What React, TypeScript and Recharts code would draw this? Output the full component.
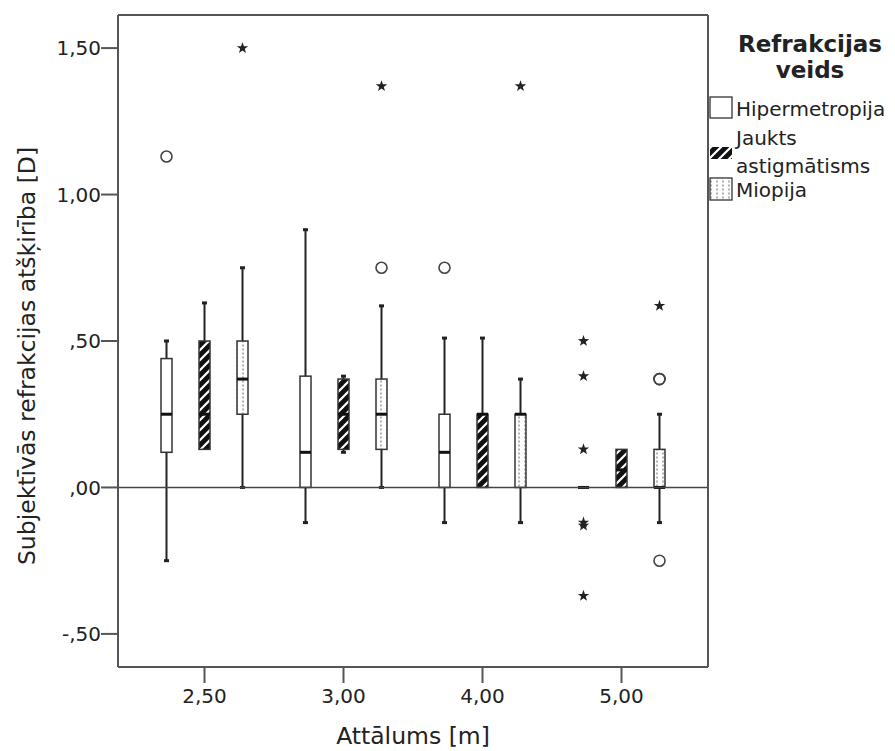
import { ComposedChart, Bar, XAxis, YAxis, ReferenceLine } from "recharts";

const FONT = '"DejaVu Sans", sans-serif';
const INK = "#222";
const FRAME = "#555";

const distances = ["2,50", "3,00", "4,00", "5,00"];

// [lower whisker, Q1, median, Q3, upper whisker] for each distance
const hipermetropija = [
  [-0.25, 0.12, 0.25, 0.44, 0.5],
  [-0.12, 0, 0.12, 0.38, 0.88],
  [-0.12, 0, 0.12, 0.25, 0.51],
  [0, 0, 0, 0, 0],
];
const jaukts = [
  [0.13, 0.13, 0.25, 0.5, 0.63],
  [0.12, 0.13, 0.25, 0.37, 0.38],
  [0, 0, 0.25, 0.25, 0.51],
  [0, 0, 0.06, 0.13, 0.13],
];
const miopija = [
  [0, 0.25, 0.37, 0.5, 0.75],
  [0, 0.13, 0.25, 0.37, 0.62],
  [-0.12, 0, 0.25, 0.25, 0.37],
  [-0.12, 0, 0, 0.13, 0.25],
];

// outliers (circles) and extreme values (stars)
const hipermetropijaOutliers = [[1.13], [], [0.75], []];
const hipermetropijaExtremes = [[], [], [], [0.5, 0.38, 0.13, -0.12, -0.13, -0.37]];
const jauktsOutliers = [[], [], [], []];
const jauktsExtremes = [[], [], [], []];
const miopijaOutliers = [[], [0.75], [], [0.37, 0.37, -0.25]];
const miopijaExtremes = [[1.5], [1.37], [1.37], [0.62]];

const yTicks = [-0.5, 0, 0.5, 1, 1.5];
const yDomain = [-0.613, 1.613];

const rows = distances.map((distance, i) => ({
  distance,
  hip: { stats: hipermetropija[i], circles: hipermetropijaOutliers[i], stars: hipermetropijaExtremes[i] },
  jau: { stats: jaukts[i], circles: jauktsOutliers[i], stars: jauktsExtremes[i] },
  mio: { stats: miopija[i], circles: miopijaOutliers[i], stars: miopijaExtremes[i] },
}));

const spanOf = (g) => {
  const all = [...g.stats, ...g.circles, ...g.stars];
  return [Math.min(...all), Math.max(...all)];
};

const fmtY = (v: number) => {
  const s = Math.abs(v).toFixed(2).replace(".", ",").replace(/^0/, "");
  return v < 0 ? "-" + s : s;
};

const starPoints = (cx: number, cy: number, R: number, r: number) =>
  Array.from({ length: 10 }, (_, k) => {
    const a = -Math.PI / 2 + (k * Math.PI) / 5;
    const rad = k % 2 ? r : R;
    return `${cx + rad * Math.cos(a)},${cy + rad * Math.sin(a)}`;
  }).join(" ");

function BoxShape(props: any) {
  const { x, y, width, height, payload, kind, fill } = props;
  const g = payload?.[kind];
  if (!g) return null;
  const [lo, hi] = spanOf(g);
  const top = Math.min(y, y + height);
  const h = Math.abs(height);
  const py = (v: number) => (hi === lo ? top : top + ((hi - v) / (hi - lo)) * h);
  const [wLo, q1, med, q3, wHi] = g.stats;
  const cx = x + width / 2;
  return (
    <g>
      {wHi > q3 && (
        <g>
          <line x1={cx} x2={cx} y1={py(q3)} y2={py(wHi)} stroke="#222" strokeWidth={2} />
          <line x1={cx - 2.5} x2={cx + 2.5} y1={py(wHi)} y2={py(wHi)} stroke="#222" strokeWidth={3} />
        </g>
      )}
      {wLo < q1 && (
        <g>
          <line x1={cx} x2={cx} y1={py(q1)} y2={py(wLo)} stroke="#222" strokeWidth={2} />
          <line x1={cx - 2.5} x2={cx + 2.5} y1={py(wLo)} y2={py(wLo)} stroke="#222" strokeWidth={3} />
        </g>
      )}
      {q3 > q1 && (
        <rect x={x} y={py(q3)} width={width} height={py(q1) - py(q3)} fill={fill} stroke="#333" strokeWidth={1.5} />
      )}
      <line x1={x} x2={x + width} y1={py(med)} y2={py(med)} stroke="#111" strokeWidth={3} />
      {g.circles.map((v: number, i: number) => (
        <circle key={"c" + i} cx={cx} cy={py(v)} r={5.5} fill="none" stroke="#444" strokeWidth={1.6} />
      ))}
      {g.stars.map((v: number, i: number) => (
        <polygon key={"s" + i} points={starPoints(cx, py(v), 6, 2.4)} fill="#222" />
      ))}
    </g>
  );
}

function AxisTitle(props: any) {
  const { viewBox, kind } = props;
  if (!viewBox) return null;
  if (kind === "x") {
    return (
      <text x={viewBox.x + viewBox.width / 2} y={viewBox.y + 77} textAnchor="middle"
        fontSize={23.5} fontFamily={FONT} fill={INK}>
        Attālums [m]
      </text>
    );
  }
  const tx = viewBox.x + 35;
  const ty = viewBox.y + viewBox.height / 2 + 15;
  return (
    <text x={tx} y={ty} transform={`rotate(-90, ${tx}, ${ty})`} textAnchor="middle"
      fontSize={23.5} fontFamily={FONT} fill={INK}>
      Subjektīvās refrakcijas atšķirība [D]
    </text>
  );
}

export default function App() {
  const axisStroke = { stroke: FRAME, strokeWidth: 2 };
  const tickStyle = { fontSize: 20, fontFamily: FONT, fill: INK };
  return (
    <div style={{ position: "absolute", left: 0, top: 0, width: 895, height: 751, background: "#fff" }}>
      <ComposedChart width={895} height={751} data={rows} barSize={11} barGap={27}
        margin={{ top: 14, right: 186, bottom: 0, left: 0 }}>
        <XAxis dataKey="distance" interval={0} padding={{ left: 17, right: 17 }} height={84}
          tickSize={16} tickMargin={6} tick={tickStyle} axisLine={axisStroke} tickLine={axisStroke}
          label={<AxisTitle kind="x" />} />
        <XAxis xAxisId="top" type="number" domain={[0, 1]} allowDataOverflow orientation="top"
          height={1} tick={false} tickLine={false} axisLine={axisStroke} />
        <YAxis type="number" domain={yDomain} ticks={yTicks} tickFormatter={fmtY}
          allowDataOverflow width={118} tickSize={17} tickMargin={0} tick={tickStyle}
          axisLine={axisStroke} tickLine={axisStroke} label={<AxisTitle kind="y" />} />
        <YAxis yAxisId="right" type="number" domain={yDomain} allowDataOverflow orientation="right"
          width={1} tick={false} tickLine={false} axisLine={axisStroke} />
        <ReferenceLine y={0} stroke="#444" strokeWidth={1.5} />
        <Bar dataKey={(r: any) => spanOf(r.hip)} isAnimationActive={false}
          shape={<BoxShape kind="hip" fill="#fff" />} />
        <Bar dataKey={(r: any) => spanOf(r.jau)} isAnimationActive={false}
          shape={<BoxShape kind="jau" fill="url(#hatch)" />} />
        <Bar dataKey={(r: any) => spanOf(r.mio)} isAnimationActive={false}
          shape={<BoxShape kind="mio" fill="url(#dots)" />} />
      </ComposedChart>
      <svg style={{ position: "absolute", left: 708, top: 0 }} width={187} height={220}
        fontFamily={FONT} fill={INK}>
        <defs>
          <pattern id="hatch" width="10" height="10" patternUnits="userSpaceOnUse">
            <rect width="10" height="10" fill="#111" />
            <path d="M-2.5,2.5 L2.5,-2.5 M0,10 L10,0 M7.5,12.5 L12.5,7.5" stroke="#fff" strokeWidth="2.2" />
          </pattern>
          <pattern id="dots" width="6" height="4" patternUnits="userSpaceOnUse">
            <rect width="6" height="4" fill="#fff" />
            <rect x="2.5" y="0.5" width="1" height="2" fill="#666" />
          </pattern>
        </defs>
        <text x={102} y={52} textAnchor="middle" fontSize={23} fontWeight="bold">Refrakcijas</text>
        <text x={102} y={78} textAnchor="middle" fontSize={23} fontWeight="bold">veids</text>
        <rect x={2} y={97} width={22} height={21} fill="#fff" stroke="#333" strokeWidth={1.3} />
        <text x={28} y={116} fontSize={20}>Hipermetropija</text>
        <rect x={2} y={147} width={22} height={12} fill="url(#hatch)" />
        <text x={28} y={145} fontSize={20}>Jaukts</text>
        <text x={28} y={173} fontSize={20}>astigmātisms</text>
        <rect x={2} y={178} width={22} height={22} fill="url(#dots)" stroke="#333" strokeWidth={1.3} />
        <text x={28} y={197} fontSize={20}>Miopija</text>
      </svg>
    </div>
  );
}
